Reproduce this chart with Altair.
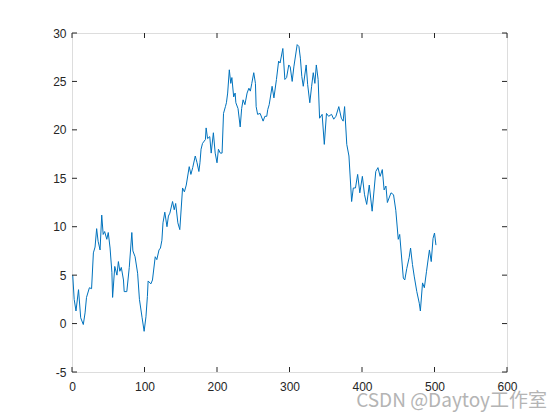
import altair as alt
import pandas as pd

# random-walk trace
steps = [1, 3, 5.5, 9, 12, 15.6, 18, 20, 24, 27, 29.5, 31.8, 34, 36, 38.7, 41, 43, 45, 48, 50,
         52.5, 55, 56, 59, 62, 64, 66, 68, 71, 72, 75.6, 79, 82.5, 84, 87, 90.5, 93, 96.7, 99.5, 102,
         104, 105, 108.8, 111, 114.8, 117, 120, 122, 124, 125.5, 128, 131, 133, 135, 138.7, 141, 143, 146, 148.7, 152.5,
         155, 157.6, 161.7, 164, 166.5, 170, 172.5, 175, 176.5, 178, 180, 184, 185, 187, 190, 192, 195, 197.5, 200, 202,
         204.5, 207, 209, 211.6, 213, 214.7, 217, 219, 220.5, 223, 225, 226, 229, 232, 234, 236, 238.5, 241.5, 244, 246,
         248, 250.7, 253, 254, 256, 259.5, 263.6, 266, 268.6, 270, 272, 276, 278.5, 282, 285, 287, 290.8, 293.6, 296, 299,
         301, 303.7, 306, 310.6, 313, 315, 317, 319, 323, 325, 328, 330.5, 332.8, 335, 337, 339.5, 341.5, 345, 348, 351,
         354, 358, 361, 364, 368, 371.5, 374, 376, 379, 382, 385.7, 388, 391, 394, 397, 400.5, 403.5, 406.5, 410, 414,
         419, 422, 425, 428, 430.5, 433, 435, 440, 443.5, 446.6, 450, 452, 457, 459, 461.8, 465, 467, 469.6, 472, 475.6,
         479, 480.5, 483.5, 486, 489, 493, 495.5, 498, 500, 502]
values = [5.0, 2.5, 1.3, 3.5, 0.6, -0.1, 1.1, 2.7, 3.7, 3.6, 7.3, 7.9, 9.8, 8.5, 7.6, 11.2, 9.2, 9.5, 8.7, 9.4,
          7.8, 5.3, 2.7, 5.9, 5.0, 6.4, 5.4, 5.8, 4.5, 3.3, 3.3, 5.8, 9.4, 7.5, 6.9, 5.2, 2.5, 0.6, -0.8, 0.7,
          2.8, 4.4, 4.1, 4.5, 6.9, 6.6, 7.6, 7.8, 8.6, 10.4, 11.5, 10.0, 11.1, 11.4, 12.6, 11.75, 12.4, 10.4, 9.7, 14.0,
          13.6, 14.3, 16.2, 15.4, 16.1, 17.3, 16.6, 15.7, 16.6, 18.0, 18.6, 19.0, 20.2, 19.1, 19.3, 17.6, 19.7, 17.6, 16.6, 18.0,
          17.6, 17.6, 21.7, 22.4, 22.8, 23.8, 26.2, 24.8, 25.4, 23.4, 23.8, 22.8, 22.2, 20.3, 22.2, 23.1, 22.6, 23.8, 24.3, 24.0,
          24.8, 25.9, 24.8, 22.4, 21.6, 21.7, 20.9, 21.4, 21.4, 22.1, 22.6, 24.5, 23.3, 25.2, 27.1, 26.9, 28.4, 25.2, 25.4, 26.7,
          26.5, 25.0, 26.5, 28.8, 28.6, 27.4, 25.5, 24.5, 26.7, 24.7, 22.8, 24.5, 25.9, 24.8, 26.7, 25.2, 21.2, 21.6, 18.5, 21.7,
          21.4, 21.6, 21.1, 21.4, 22.4, 21.2, 20.9, 22.4, 18.5, 17.3, 12.6, 14.0, 14.0, 15.4, 13.5, 15.2, 13.3, 12.3, 14.3, 11.6,
          15.7, 16.1, 15.2, 15.9, 13.8, 14.2, 12.5, 13.5, 13.3, 11.7, 8.7, 9.2, 4.7, 4.5, 5.7, 6.8, 7.8, 6.1, 4.9, 3.3,
          2.1, 1.3, 4.2, 3.7, 5.4, 7.6, 6.4, 8.8, 9.35, 8.1]

x_ticks = [0, 100, 200, 300, 400, 500, 600]
y_ticks = [-5, 0, 5, 10, 15, 20, 25, 30]
watermark = ["CSDN @Daytoy工作室"]

W, H = 435, 339
AX = "#262626"
FONT = "Liberation Sans"

df = pd.DataFrame({"step": steps, "value": values})
xt = pd.DataFrame({"t": x_ticks})
yt = pd.DataFrame({"t": y_ticks})

xs = alt.Scale(domain=[0, 600], nice=False, zero=False)
ys = alt.Scale(domain=[-5, 30], nice=False, zero=False)

line = alt.Chart(df).mark_line(color="#0072BD", strokeWidth=1).encode(
    x=alt.X("step:Q", scale=xs,
            axis=alt.Axis(values=x_ticks, title=None, ticks=False, domain=False, grid=False,
                          labelFont=FONT, labelFontSize=12, labelColor=AX, labelPadding=9,
                          labelFlush=False, labelExpr="'' + datum.value")),
    y=alt.Y("value:Q", scale=ys,
            axis=alt.Axis(values=y_ticks, title=None, ticks=False, domain=False, grid=False,
                          labelFont=FONT, labelFontSize=12, labelColor=AX, labelPadding=6,
                          labelFlush=False, labelExpr="'' + datum.value")),
)

tick_len = 5
xb = alt.Chart(xt).mark_rule(color=AX, strokeWidth=1).encode(
    x=alt.X("t:Q", scale=xs), y=alt.value(H), y2=alt.value(H - tick_len))
xtop = alt.Chart(xt).mark_rule(color=AX, strokeWidth=1).encode(
    x=alt.X("t:Q", scale=xs), y=alt.value(0), y2=alt.value(tick_len))
yl = alt.Chart(yt).mark_rule(color=AX, strokeWidth=1).encode(
    y=alt.Y("t:Q", scale=ys), x=alt.value(0), x2=alt.value(tick_len))
yr = alt.Chart(yt).mark_rule(color=AX, strokeWidth=1).encode(
    y=alt.Y("t:Q", scale=ys), x=alt.value(W), x2=alt.value(W - tick_len))

wm = alt.Chart(pd.DataFrame({"txt": watermark})).mark_text(
    font="Noto Sans CJK SC", fontSize=19, color="#b4b4b4", align="right", baseline="alphabetic"
).encode(text="txt:N", x=alt.value(475), y=alt.value(374))

chart = alt.layer(line, xb, xtop, yl, yr, wm).properties(
    width=W, height=H,
    padding={"left": 64, "top": 25, "right": 45, "bottom": 40},
    autosize=alt.AutoSizeParams(type="none"),
).configure_view(stroke=AX, strokeWidth=1).configure(background="white")

chart.save("out.html", embed_options={"renderer": "svg", "actions": False})
